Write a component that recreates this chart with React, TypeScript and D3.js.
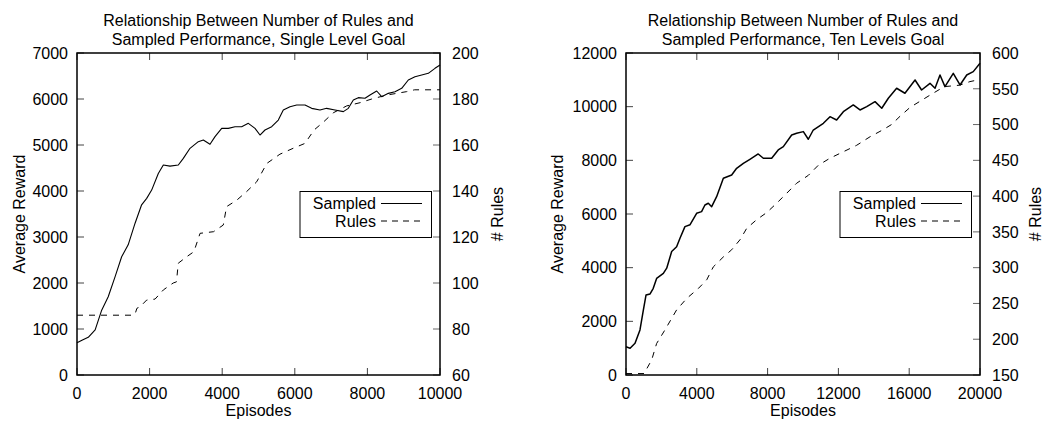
import React from "react";
import * as d3 from "d3";

// ---------- Data: left chart (Single Level Goal) ----------
const leftTitle = ["Relationship Between Number of Rules and", "Sampled Performance, Single Level Goal"];
const leftXTicks = [0, 2000, 4000, 6000, 8000, 10000];
const leftYTicks = [0, 1000, 2000, 3000, 4000, 5000, 6000, 7000];
const leftY2Ticks = [60, 80, 100, 120, 140, 160, 180, 200];
const leftSampled: [number, number][] = [
  [0, 700], [150, 760], [310, 820], [500, 980], [680, 1410], [860, 1700], [1050, 2140], [1230, 2570],
  [1410, 2830], [1600, 3300], [1780, 3700], [1920, 3840], [2057, 4020], [2240, 4380], [2378, 4565],
  [2562, 4540], [2791, 4565], [2929, 4710], [3113, 4928], [3342, 5072], [3480, 5109], [3664, 5015],
  [3802, 5181], [3986, 5362], [4168, 5362], [4353, 5398], [4537, 5398], [4720, 5471], [4904, 5362],
  [5041, 5217], [5179, 5326], [5363, 5398], [5546, 5543], [5683, 5761], [5868, 5833], [6052, 5870],
  [6281, 5870], [6465, 5797], [6694, 5761], [6878, 5797], [7107, 5761], [7337, 5725], [7474, 5797],
  [7612, 5978], [7750, 6029], [7934, 6015], [8072, 6087], [8256, 6174], [8394, 6051], [8577, 6123],
  [8760, 6159], [8945, 6232], [9127, 6413], [9311, 6485], [9496, 6522], [9678, 6558], [9862, 6667],
  [10000, 6740],
];
const leftRules: [number, number][] = [
  [0, 86], [1500, 86], [1600, 86.5], [1650, 89], [1740, 89.7], [1920, 92.6], [2150, 93], [2380, 97],
  [2650, 100], [2740, 100.5], [2790, 108.6], [3020, 111.4], [3220, 113.6], [3390, 121.6], [3760, 122.3],
  [4030, 125.2], [4120, 133.2], [4400, 136], [4670, 139.7], [4950, 144], [5230, 152], [5590, 156],
  [5960, 158.6], [6280, 160.7], [6530, 166.5], [6790, 170], [7060, 174], [7430, 177], [7800, 178.4],
  [8120, 180], [8530, 181.7], [9080, 183.2], [9300, 184], [10000, 184],
];

// ---------- Data: right chart (Ten Levels Goal) ----------
const rightTitle = ["Relationship Between Number of Rules and", "Sampled Performance, Ten Levels Goal"];
const rightXTicks = [0, 4000, 8000, 12000, 16000, 20000];
const rightYTicks = [0, 2000, 4000, 6000, 8000, 10000, 12000];
const rightY2Ticks = [150, 200, 250, 300, 350, 400, 450, 500, 550, 600];
const rightSampled: [number, number][] = [
  [0, 1050], [230, 1000], [510, 1180], [790, 1680], [980, 2420], [1130, 2980], [1360, 3020], [1540, 3230],
  [1730, 3600], [2110, 3790], [2300, 3980], [2580, 4600], [2860, 4780], [3050, 5095], [3330, 5530],
  [3620, 5600], [3990, 6027], [4270, 6090], [4460, 6336], [4650, 6400], [4840, 6273], [5120, 6646],
  [5500, 7331], [5970, 7454], [6250, 7704], [6630, 7890], [7000, 8039], [7470, 8237], [7760, 8076],
  [8230, 8076], [8600, 8386], [8890, 8510], [9360, 8945], [9640, 9008], [10020, 9070], [10300, 8785],
  [10580, 9130], [11150, 9380], [11525, 9627], [11900, 9504], [12280, 9814], [12840, 10063],
  [13220, 9877], [13600, 10000], [14070, 10187], [14450, 9940], [14820, 10313], [15290, 10686],
  [15760, 10500], [16330, 10995], [16700, 10622], [17175, 10870], [17460, 10686], [17740, 11181],
  [18020, 10746], [18490, 11243], [18870, 10808], [19250, 11181], [19620, 11305], [20000, 11616],
];
const rightRules: [number, number][] = [
  [0, 152], [1020, 152], [1450, 171], [1730, 194], [2200, 213], [2860, 241], [3430, 257], [4090, 271],
  [4560, 283], [4930, 301], [5500, 315], [5970, 325], [6440, 339], [6820, 355], [7380, 367], [7950, 377],
  [8510, 390], [9080, 404], [9640, 418], [10300, 429], [10860, 443], [11525, 453], [12280, 462],
  [13030, 471], [13790, 483], [14540, 493], [15000, 500], [15500, 512], [16050, 524], [16640, 533],
  [17300, 543], [17980, 553], [18840, 555], [19430, 560], [20000, 563],
];

const legendLabels = ["Sampled", "Rules"];
const xLabel = "Episodes";
const yLabel = "Average Reward";
const y2Label = "# Rules";

const FONT = "'Liberation Sans', Arial, Helvetica, sans-serif";
const FS = 16;

interface ChartProps {
  title: string[];
  x0: number; x1: number; top: number; bottom: number;
  xTicks: number[]; yTicks: number[]; y2Ticks: number[];
  sampled: [number, number][]; rules: [number, number][];
  yLabelX: number; y2LabelX: number; lineWidth: number;
}

function Chart(p: ChartProps) {
  const x = d3.scaleLinear().domain([p.xTicks[0], p.xTicks[p.xTicks.length - 1]]).range([p.x0, p.x1]);
  const y = d3.scaleLinear().domain([p.yTicks[0], p.yTicks[p.yTicks.length - 1]]).range([p.bottom, p.top]);
  const y2 = d3.scaleLinear().domain([p.y2Ticks[0], p.y2Ticks[p.y2Ticks.length - 1]]).range([p.bottom, p.top]);
  const lineS = d3.line<[number, number]>().x(d => x(d[0])).y(d => y(d[1]));
  const lineR = d3.line<[number, number]>().x(d => x(d[0])).y(d => y2(d[1]));
  const tl = 7;
  const cx = (p.x0 + p.x1) / 2;
  const cy = (p.top + p.bottom) / 2;
  const lgx0 = p.x1 - 140, lgx1 = p.x1 - 8.5, lgy0 = 191.5, lgy1 = 237.5;
  return (
    <g fontFamily={FONT} fontSize={FS} fill="#000">
      <text x={cx} y={26} textAnchor="middle">{p.title[0]}</text>
      <text x={cx} y={44.5} textAnchor="middle">{p.title[1]}</text>
      {p.xTicks.map((t, i) => (
        <g key={"x" + i}>
          <line x1={x(t)} x2={x(t)} y1={p.bottom} y2={p.bottom - tl} stroke="#444" strokeWidth={1} />
          <line x1={x(t)} x2={x(t)} y1={p.top} y2={p.top + tl} stroke="#444" strokeWidth={1} />
          <text x={x(t)} y={399} textAnchor="middle">{t}</text>
        </g>
      ))}
      {p.yTicks.map((t, i) => (
        <g key={"y" + i}>
          <line x1={p.x0} x2={p.x0 + tl} y1={y(t)} y2={y(t)} stroke="#444" strokeWidth={1} />
          <text x={p.x0 - 9} y={y(t)} dy="0.36em" textAnchor="end">{t}</text>
        </g>
      ))}
      {p.y2Ticks.map((t, i) => (
        <g key={"y2" + i}>
          <line x1={p.x1} x2={p.x1 - tl} y1={y2(t)} y2={y2(t)} stroke="#666" strokeWidth={1} />
          <text x={p.x1 + 12} y={y2(t)} dy="0.36em" textAnchor="start">{t}</text>
        </g>
      ))}
      <path d={lineS(p.sampled) || ""} fill="none" stroke="#000" strokeWidth={p.lineWidth} strokeLinejoin="round" />
      <path d={lineR(p.rules) || ""} fill="none" stroke="#000" strokeWidth={1} strokeDasharray="6,6" />
      <rect x={lgx0} y={lgy0} width={lgx1 - lgx0} height={lgy1 - lgy0} fill="#fff" stroke="#000" strokeWidth={1} />
      <text x={lgx0 + 76} y={209} textAnchor="end">{legendLabels[0]}</text>
      <line x1={lgx0 + 81} x2={lgx0 + 122} y1={203.5} y2={203.5} stroke="#000" strokeWidth={1} />
      <text x={lgx0 + 76} y={226.5} textAnchor="end">{legendLabels[1]}</text>
      <line x1={lgx0 + 81} x2={lgx0 + 122} y1={221} y2={221} stroke="#000" strokeWidth={1} strokeDasharray="6,5" />
      <rect x={p.x0} y={p.top} width={p.x1 - p.x0} height={p.bottom - p.top} fill="none" stroke="#000" strokeWidth={1.5} />
      <text x={cx} y={416} textAnchor="middle">{xLabel}</text>
      <text transform={`translate(${p.yLabelX},${cy}) rotate(-90)`} textAnchor="middle">{yLabel}</text>
      <text transform={`translate(${p.y2LabelX},${cy}) rotate(-90)`} textAnchor="middle">{y2Label}</text>
    </g>
  );
}

export default function App() {
  return (
    <svg width={1043} height={421} style={{ position: "absolute", left: 0, top: 0, background: "#fff" }}>
      <rect x={0} y={0} width={1043} height={421} fill="#fff" />
      <Chart title={leftTitle} x0={77} x1={440} top={53} bottom={375}
        xTicks={leftXTicks} yTicks={leftYTicks} y2Ticks={leftY2Ticks}
        sampled={leftSampled} rules={leftRules} yLabelX={25} y2LabelX={503} lineWidth={1.1} />
      <Chart title={rightTitle} x0={626} x1={980} top={53} bottom={375}
        xTicks={rightXTicks} yTicks={rightYTicks} y2Ticks={rightY2Ticks}
        sampled={rightSampled} rules={rightRules} yLabelX={563} y2LabelX={1041} lineWidth={1.5} />
    </svg>
  );
}
